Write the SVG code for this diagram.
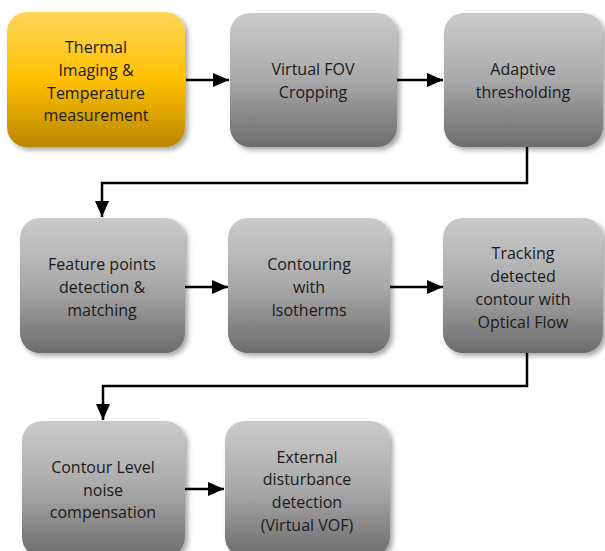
<svg xmlns="http://www.w3.org/2000/svg" width="605" height="551" viewBox="0 0 605 551">
  <defs>
    <linearGradient id="gray" x1="0" y1="0" x2="0" y2="1">
      <stop offset="0" stop-color="#cbcbcb"/>
      <stop offset="0.5" stop-color="#a9a9a9"/>
      <stop offset="1" stop-color="#6c6c6c"/>
    </linearGradient>
    <linearGradient id="gold" x1="0" y1="0" x2="0" y2="1">
      <stop offset="0" stop-color="#ffd659"/>
      <stop offset="0.5" stop-color="#ffc000"/>
      <stop offset="1" stop-color="#b88600"/>
    </linearGradient>
    <filter id="shadow" x="-10%" y="-10%" width="125%" height="125%">
      <feDropShadow dx="3" dy="3" stdDeviation="2.5" flood-color="#000" flood-opacity="0.35"/>
    </filter>
    <marker id="arrow" markerUnits="userSpaceOnUse" markerWidth="16" markerHeight="14" refX="16" refY="7" orient="auto">
      <path d="M0,0 L16,7 L0,14 z" fill="#000"/>
    </marker>
  </defs>
  <style>
    .box { fill: url(#gray); filter: url(#shadow); }
    .start { fill: url(#gold); filter: url(#shadow); }
    text { font-family: "Open Sans", "Noto Sans", sans-serif; font-size: 16px; fill: #1a1a1a; text-anchor: middle; }
    .conn { fill: none; stroke: #000; stroke-width: 2.5; marker-end: url(#arrow); }
  </style>

  <g id="connectors">
    <line class="conn" x1="186" y1="80" x2="229" y2="80"/>
    <line class="conn" x1="397" y1="80" x2="443" y2="80"/>
    <polyline class="conn" points="527,147 527,183 102,183 102,217"/>
    <line class="conn" x1="185" y1="287" x2="228" y2="287"/>
    <line class="conn" x1="390" y1="287" x2="443" y2="287"/>
    <polyline class="conn" points="527,353 527,386 103,386 103,420"/>
    <line class="conn" x1="185" y1="489" x2="224" y2="489"/>
  </g>

  <g id="node-thermal">
    <rect class="start" x="7" y="12" width="178" height="135" rx="20"/>
    <text x="96" y="53">Thermal</text>
    <text x="96" y="76">Imaging &amp;</text>
    <text x="96" y="99">Temperature</text>
    <text x="96" y="121">measurement</text>
  </g>
  <g id="node-fov">
    <rect class="box" x="230" y="13" width="167" height="134" rx="20"/>
    <text x="313" y="75">Virtual FOV</text>
    <text x="313" y="98">Cropping</text>
  </g>
  <g id="node-adaptive">
    <rect class="box" x="444" y="13" width="159" height="134" rx="20"/>
    <text x="523" y="75">Adaptive</text>
    <text x="523" y="98">thresholding</text>
  </g>
  <g id="node-feature">
    <rect class="box" x="20" y="218" width="165" height="135" rx="20"/>
    <text x="102" y="270">Feature points</text>
    <text x="102" y="293">detection &amp;</text>
    <text x="102" y="316">matching</text>
  </g>
  <g id="node-contouring">
    <rect class="box" x="228" y="218" width="162" height="135" rx="20"/>
    <text x="309" y="270">Contouring</text>
    <text x="309" y="293">with</text>
    <text x="309" y="316">Isotherms</text>
  </g>
  <g id="node-tracking">
    <rect class="box" x="443" y="218" width="160" height="135" rx="20"/>
    <text x="523" y="259">Tracking</text>
    <text x="523" y="282">detected</text>
    <text x="523" y="305">contour with</text>
    <text x="523" y="328">Optical Flow</text>
  </g>
  <g id="node-noise">
    <rect class="box" x="22" y="421" width="163" height="136" rx="20"/>
    <text x="103" y="473">Contour Level</text>
    <text x="103" y="496">noise</text>
    <text x="103" y="518">compensation</text>
  </g>
  <g id="node-disturbance">
    <rect class="box" x="225" y="421" width="165" height="136" rx="20"/>
    <text x="307" y="463">External</text>
    <text x="307" y="485">disturbance</text>
    <text x="307" y="508">detection</text>
    <text x="307" y="531">(Virtual VOF)</text>
  </g>
</svg>
